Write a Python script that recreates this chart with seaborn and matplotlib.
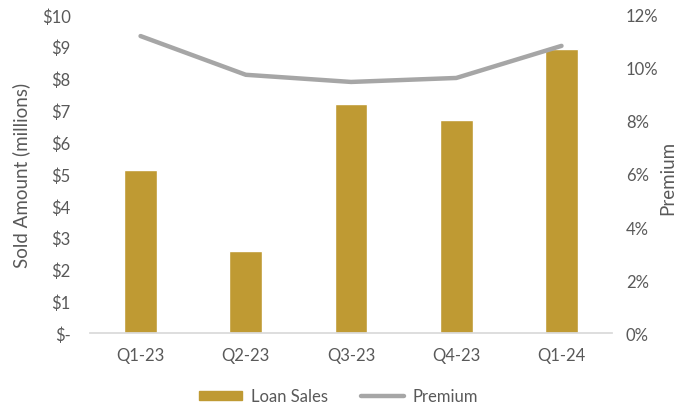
import matplotlib
matplotlib.use("Agg")
import matplotlib.pyplot as plt
import seaborn as sns
import pandas as pd
from matplotlib.ticker import FuncFormatter
from matplotlib.patches import Patch
from matplotlib.lines import Line2D

quarters = ["Q1-23", "Q2-23", "Q3-23", "Q4-23", "Q1-24"]
loan_sales = [5.13, 2.58, 7.2, 6.7, 8.93]
premium = [0.112, 0.0974, 0.0947, 0.0962, 0.1083]

sns.set_theme(style="white")
plt.rcParams['font.family'] = ['Lato', 'DejaVu Sans']
txt = "#595959"

df = pd.DataFrame({"Quarter": quarters, "Loan Sales": loan_sales, "Premium": premium})

fig = plt.figure(figsize=(6.77, 4.06), dpi=100)
ax = fig.add_axes([0.133, 0.177, 0.771, 0.784])
sns.barplot(data=df, x="Quarter", y="Loan Sales", color="#BF9A33", saturation=1,
            width=0.31, ax=ax)
ax.set_ylim(0, 10)
ax.set_yticks(range(0, 11))
ax.yaxis.set_major_formatter(FuncFormatter(lambda v, p: "$-" if v == 0 else f"${int(v)}"))
ax.set_xlabel("")
ax.set_ylabel("")
ax.set_xlim(-0.48, 4.48)

ax2 = ax.twinx()
sns.lineplot(data=df, x="Quarter", y="Premium", color="#A6A6A6", linewidth=3.2, ax=ax2,
             sort=False)
ax2.set_ylim(0, 0.12)
ax2.set_yticks([0, 0.02, 0.04, 0.06, 0.08, 0.10, 0.12])
ax2.yaxis.set_major_formatter(FuncFormatter(lambda v, p: f"{v*100:.0f}%"))
ax2.set_ylabel("")
ax2.set_xlabel("")

fig.text(21 / 677, 1 - 175 / 406, "Sold Amount (millions)", rotation=90, ha="center",
         va="center", color=txt, fontsize=13.5)
fig.text(668 / 677, 1 - 178 / 406, "Premium", rotation=90, ha="center",
         va="center", color=txt, fontsize=13.5)

for a in (ax, ax2):
    for s in a.spines.values():
        s.set_visible(False)
    a.tick_params(axis='both', length=0, colors=txt, labelsize=12)
ax.spines['bottom'].set_visible(True)
ax.spines['bottom'].set_color("#D9D9D9")
ax.tick_params(axis='x', pad=10)
ax.tick_params(axis='y', pad=14)
ax2.tick_params(axis='y', pad=10)

handles = [Patch(color="#BF9A33", label="Loan Sales"),
           Line2D([0], [0], color="#A6A6A6", lw=3.2, label="Premium")]
fig.legend(handles=handles, loc="lower center", bbox_to_anchor=(0.5, -0.035), ncol=2,
           frameon=False, fontsize=12, labelcolor=txt, handlelength=2.6, handleheight=0.5,
           columnspacing=2.0, handletextpad=0.5)

fig.savefig("out.png", dpi=100)
